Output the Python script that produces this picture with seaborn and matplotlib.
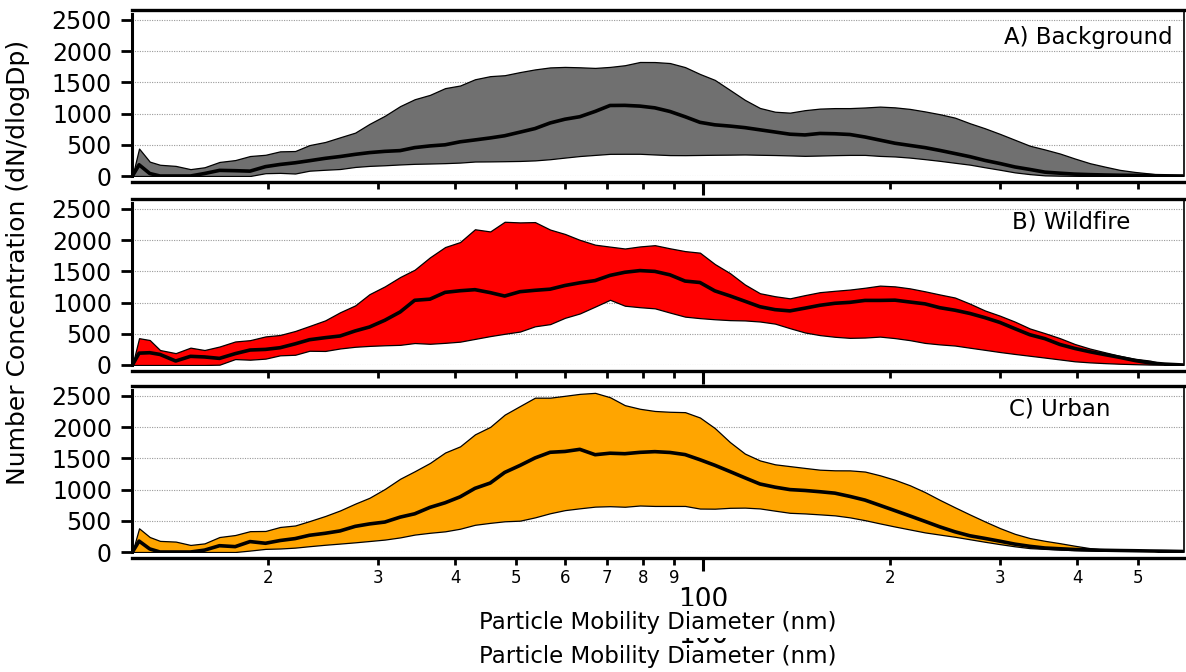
import matplotlib
matplotlib.use("Agg")
import matplotlib.pyplot as plt
import numpy as np
import pandas as pd
import seaborn as sns

# particle mobility diameter bins (nm)
diameter = [12.1, 12.4, 12.9, 13.4, 14.2, 15.0, 15.8, 16.7,
            17.7, 18.7, 19.8, 20.9, 22.1, 23.3, 24.7, 26.1,
            27.6, 29.1, 30.8, 32.6, 34.4, 36.4, 38.5, 40.7,
            43.0, 45.5, 48.0, 50.8, 53.7, 56.8, 60.0, 63.4,
            67.1, 70.9, 74.9, 79.2, 83.7, 88.5, 93.6, 98.9,
            104.5, 110.5, 116.8, 123.5, 130.6, 138.0, 145.9, 154.2,
            163.0, 172.3, 182.2, 192.6, 203.6, 215.2, 227.5, 240.4,
            254.2, 268.7, 284.0, 300.3, 317.4, 335.5, 354.7, 375.0,
            396.3, 419.0, 442.9, 468.2, 494.9, 523.2, 553.1, 591.0]

# A) background
bg_low = [0, 0, 0, 0, 0, 0, 0, 0,
          0, 0, 45, 50, 40, 85, 100, 112,
          145, 162, 172, 185, 195, 200, 206, 215,
          232, 234, 237, 241, 250, 269, 295, 320,
          338, 355, 356, 356, 345, 335, 334, 337,
          340, 342, 345, 340, 336, 330, 323, 328,
          334, 338, 338, 322, 313, 295, 270, 243,
          212, 182, 140, 100, 58, 30, 10, 5,
          3, 0, 0, 0, 0, 0, 0, 0]
bg_med = [0, 180, 40, 0, 0, 0, 40, 90,
          85, 78, 150, 185, 212, 245, 283, 312,
          347, 375, 395, 407, 455, 482, 500, 548,
          578, 610, 645, 703, 760, 850, 910, 950,
          1035, 1130, 1132, 1120, 1092, 1034, 950, 860,
          820, 800, 775, 740, 705, 670, 658, 682,
          677, 665, 625, 575, 525, 490, 455, 410,
          360, 310, 250, 200, 145, 105, 62, 45,
          30, 22, 16, 12, 10, 7, 3, 0]
bg_high = [0, 440, 230, 180, 162, 110, 140, 225,
           255, 320, 340, 395, 400, 495, 545, 620,
           695, 835, 965, 1120, 1230, 1300, 1408, 1450,
           1550, 1600, 1615, 1665, 1708, 1740, 1748, 1742,
           1732, 1748, 1775, 1827, 1826, 1810, 1745, 1635,
           1540, 1380, 1220, 1090, 1030, 1015, 1055, 1080,
           1088, 1088, 1098, 1112, 1100, 1075, 1035, 990,
           935, 845, 765, 675, 580, 485, 425, 360,
           280, 205, 150, 98, 65, 40, 10, 0]

# B) wildfire
wf_low = [0, 0, 0, 0, 0, 0, 0, 5,
          95, 85, 102, 155, 164, 228, 225, 265,
          292, 306, 316, 323, 352, 340, 355, 374,
          418, 463, 500, 536, 620, 655, 756, 826,
          936, 1045, 950, 926, 908, 840, 775, 751,
          733, 719, 714, 697, 663, 590, 521, 479,
          452, 435, 440, 455, 431, 398, 354, 330,
          312, 277, 243, 208, 177, 148, 119, 89,
          59, 42, 30, 20, 13, 7, 3, 0]
wf_med = [0, 190, 197, 169, 64, 139, 129, 106,
          182, 240, 250, 277, 339, 405, 438, 465,
          546, 609, 717, 850, 1037, 1055, 1164, 1190,
          1207, 1160, 1105, 1175, 1197, 1215, 1274, 1317,
          1353, 1436, 1486, 1513, 1500, 1445, 1345, 1322,
          1188, 1108, 1022, 934, 887, 867, 911, 957,
          989, 1004, 1035, 1035, 1039, 1009, 980, 918,
          878, 826, 759, 682, 582, 485, 422, 329,
          265, 212, 166, 122, 72, 33, 14, 0]
wf_high = [0, 430, 400, 240, 190, 278, 240, 296,
           377, 398, 458, 481, 545, 625, 715, 845,
           955, 1135, 1260, 1410, 1527, 1725, 1890, 1970,
           2175, 2140, 2295, 2285, 2290, 2170, 2100, 2005,
           1928, 1897, 1867, 1900, 1920, 1870, 1825, 1800,
           1618, 1473, 1290, 1150, 1102, 1068, 1120, 1167,
           1189, 1209, 1238, 1272, 1260, 1228, 1181, 1130,
           1081, 983, 874, 790, 695, 585, 510, 430,
           336, 263, 204, 146, 100, 71, 14, 0]

# C) urban
ur_low = [0, 0, 0, 0, 0, 0, 0, 0,
          0, 23, 50, 56, 70, 93, 116, 135,
          155, 176, 199, 234, 279, 308, 331, 373,
          436, 467, 492, 502, 555, 621, 671, 700,
          727, 734, 725, 745, 738, 738, 738, 696,
          694, 708, 711, 698, 662, 628, 618, 603,
          587, 555, 510, 458, 408, 361, 314, 279,
          244, 204, 164, 126, 91, 62, 50, 38,
          30, 24, 18, 14, 10, 6, 3, 0]
ur_med = [0, 175, 49, 0, 0, 0, 30, 101,
          86, 167, 140, 184, 215, 268, 300, 338,
          411, 450, 480, 559, 612, 715, 789, 884,
          1020, 1105, 1275, 1387, 1507, 1598, 1611, 1645,
          1559, 1583, 1575, 1597, 1608, 1595, 1561, 1479,
          1390, 1290, 1189, 1090, 1039, 1000, 986, 966,
          943, 891, 832, 748, 663, 578, 491, 403,
          324, 260, 218, 173, 126, 91, 64, 52,
          40, 33, 27, 23, 20, 16, 13, 8]
ur_high = [0, 380, 240, 178, 167, 113, 138, 240,
           272, 334, 337, 401, 425, 495, 577, 666,
           775, 869, 1010, 1174, 1294, 1427, 1594, 1693,
           1885, 2005, 2201, 2339, 2473, 2473, 2503, 2534,
           2550, 2480, 2353, 2295, 2260, 2247, 2241, 2155,
           1986, 1762, 1577, 1467, 1405, 1376, 1347, 1319,
           1309, 1308, 1289, 1229, 1157, 1069, 960, 835,
           716, 601, 490, 383, 291, 223, 179, 141,
           100, 62, 36, 28, 24, 20, 12, 5]

panel_titles = ["A) Background", "B) Wildfire", "C) Urban"]
panel_colors = ["#707070", "#ff0000", "#ffa500"]
y_ticks = [0, 500, 1000, 1500, 2000, 2500]
minor_ticks = [20, 30, 40, 50, 60, 70, 80, 90, 200, 300, 400, 500]
minor_labels = ["2", "3", "4", "5", "6", "7", "8", "9", "2", "3", "4", "5"]


def draw_panel(ax, df, color, title, title_pos, show_labels):
    ax.fill_between(df["d"], df["low"], df["high"], facecolor=color,
                    edgecolor="black", linewidth=0.9, zorder=2)
    sns.lineplot(data=df, x="d", y="med", ax=ax, color="black",
                 linewidth=2.6, zorder=3, estimator=None, sort=False)
    ax.set_xscale("log")
    ax.set_xlim(12.08, 593.6)
    ax.set_ylim(0, 2660)
    ax.set_yticks(y_ticks)
    ax.set_yticklabels([str(v) for v in y_ticks])
    ax.yaxis.grid(True, linestyle=(0, (1, 1.2)), color="#9a9a9a", linewidth=0.8, zorder=0)
    ax.xaxis.grid(False)
    ax.set_axisbelow(True)

    ax.set_xticks([100])
    ax.set_xticks(minor_ticks, minor=True)
    if show_labels:
        ax.set_xticklabels(["100"])
        ax.set_xticklabels(minor_labels, minor=True)
    else:
        ax.set_xticklabels([""])
        ax.set_xticklabels([""] * len(minor_ticks), minor=True)
    ax.tick_params(axis="x", which="major", bottom=True, direction="out", length=9.4,
                   width=2.2, labelsize=19, pad=11, colors="black")
    ax.tick_params(axis="x", which="minor", bottom=True, direction="out", length=4.8,
                   width=2.0, labelsize=12, pad=3, colors="black")
    ax.tick_params(axis="y", left=True, direction="out", length=8, width=2.0,
                   labelsize=17, pad=6.5, colors="black")

    for side in ["top", "left", "bottom", "right"]:
        ax.spines[side].set_visible(True)
        ax.spines[side].set_color("black")
    ax.spines["top"].set_linewidth(2.4)
    ax.spines["left"].set_linewidth(2.2)
    ax.spines["left"].set_bounds(0, 2590)
    ax.spines["bottom"].set_linewidth(2.4)
    ax.spines["bottom"].set_position(("outward", 4.5))
    ax.spines["right"].set_linewidth(1.2)

    ax.set_xlabel("")
    ax.set_ylabel("")
    ax.text(title_pos[0], title_pos[1], title, transform=ax.transAxes,
            ha="right", va="center", fontsize=16.5, color="black")


sns.set_theme(style="white")
plt.rcParams["font.family"] = ["DejaVu Sans"]
plt.rcParams["text.color"] = "black"

fig = plt.figure(figsize=(11.86, 6.72), dpi=100)
left = 132 / 1186
width = 1052 / 1186
height = 166 / 672
bottoms = [(672 - 176) / 672, (672 - 365) / 672, (672 - 552) / 672]
title_pos = [(0.989, 0.837), (0.949, 0.861), (0.93, 0.861)]

panels = [(bg_low, bg_med, bg_high), (wf_low, wf_med, wf_high), (ur_low, ur_med, ur_high)]
for i, (low, med, high) in enumerate(panels):
    ax = fig.add_axes([left, bottoms[i], width, height])
    df = pd.DataFrame({"d": diameter, "low": low, "med": med, "high": high})
    draw_panel(ax, df, panel_colors[i], panel_titles[i], title_pos[i], i == 2)

# axis titles (the bottom label is doubled in the original figure)
fig.text(18 / 1186, 1 - 262 / 672, "Number Concentration (dN/dlogDp)",
         rotation=90, ha="center", va="center", fontsize=18)
fig.text(703 / 1186, 1 - 636 / 672, "100", ha="center", va="center",
         fontsize=19, zorder=1)
fig.text(658 / 1186, 1 - 622 / 672, "Particle Mobility Diameter (nm)",
         ha="center", va="center", fontsize=16.5, zorder=3,
         bbox=dict(boxstyle="square,pad=0.2", facecolor="white", edgecolor="none"))
fig.text(658 / 1186, 1 - 657 / 672, "Particle Mobility Diameter (nm)",
         ha="center", va="center", fontsize=16.5)

fig.savefig("out.png", dpi=100, facecolor="white")
